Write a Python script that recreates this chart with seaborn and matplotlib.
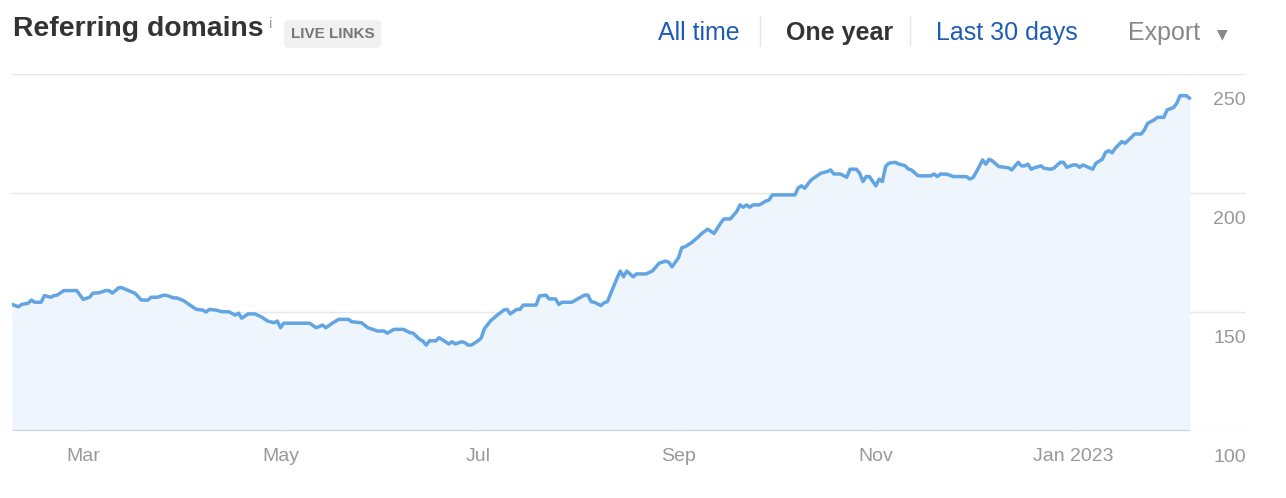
import pandas as pd
import matplotlib.pyplot as plt
from matplotlib.lines import Line2D
from matplotlib.transforms import offset_copy
import seaborn as sns

# data (days since start, referring domains)
start = "2022-02-07"
days = [0, 2, 3, 5, 6, 7, 9, 10, 12, 13, 14, 16, 20, 22, 24, 25, 27, 29, 30, 31,
        33, 34, 36, 38, 40, 42, 43, 45, 47, 48, 50, 51, 53, 55, 57, 59, 60, 61, 63, 65,
        67, 69, 70, 71, 73, 75, 77, 79, 81, 82, 83, 84, 92, 94, 96, 97, 99, 101, 104, 105,
        108, 110, 113, 115, 116, 118, 121, 123, 124, 126, 127, 128, 129, 131, 132, 134, 135, 136, 137, 139,
        140, 141, 142, 144, 145, 146, 148, 150, 152, 153, 154, 156, 157, 158, 162, 163, 165, 166, 168, 169,
        170, 173, 176, 177, 178, 179, 180, 182, 183, 184, 187, 188, 189, 190, 192, 193, 196, 198, 200, 202,
        203, 204, 206, 207, 208, 210, 212, 213, 215, 217, 219, 220, 222, 224, 225, 226, 227, 228, 229, 231,
        233, 234, 235, 242, 243, 244, 245, 247, 250, 252, 253, 254, 256, 258, 259, 261, 262, 263, 264, 265,
        267, 268, 269, 270, 271, 273, 274, 276, 277, 278, 280, 281, 284, 285, 286, 287, 289, 291, 295, 296,
        297, 298, 300, 301, 302, 303, 305, 308, 309, 311, 312, 313, 314, 315, 316, 318, 319, 321, 322, 324,
        325, 326, 328, 329, 330, 331, 333, 334, 335, 337, 338, 339, 340, 341, 343, 344, 346, 347, 349, 350,
        351, 353, 354, 356, 357, 359, 360, 361, 363, 364]
domains = [153.2, 152.2, 153.2, 153.7, 155.0, 154.1, 154.1, 156.9, 156.2, 156.9, 157.1, 159.0, 159.0, 155.3, 156.2, 157.9, 158.1, 159.0, 159.0, 157.9,
           160.2, 160.2, 159.0, 157.9, 155.0, 155.0, 156.2, 156.2, 157.1, 156.9, 155.9, 155.9, 154.8, 152.9, 151.1, 150.8, 150.0, 151.1, 150.8, 150.1,
           150.1, 148.7, 149.5, 147.4, 149.2, 149.2, 148.0, 146.2, 145.5, 146.2, 143.4, 145.3, 145.3, 143.4, 144.5, 143.4, 145.3, 146.9, 146.9, 145.9,
           145.5, 143.4, 142.0, 142.0, 141.1, 142.7, 142.7, 141.3, 141.1, 138.5, 137.8, 136.1, 137.9, 137.9, 139.2, 137.5, 136.6, 137.5, 136.6, 137.5,
           137.1, 136.1, 136.1, 137.9, 139.0, 143.0, 146.4, 148.7, 150.8, 151.1, 149.2, 151.1, 151.1, 152.9, 152.9, 156.7, 157.1, 155.5, 155.5, 153.2,
           154.1, 154.1, 156.4, 157.1, 157.1, 154.3, 154.1, 152.7, 153.9, 154.3, 164.2, 167.2, 164.8, 167.2, 164.8, 166.0, 166.0, 167.3, 170.5, 171.4,
           170.9, 169.0, 172.8, 177.0, 177.4, 179.1, 181.4, 182.8, 184.8, 183.0, 187.3, 189.1, 189.1, 192.2, 195.0, 194.0, 195.0, 194.0, 195.0, 195.0,
           196.6, 197.1, 199.2, 199.2, 202.2, 203.0, 202.0, 205.5, 208.3, 209.0, 209.7, 208.0, 208.0, 206.6, 210.0, 210.0, 208.3, 204.8, 206.9, 206.9,
           203.0, 205.8, 204.8, 211.1, 212.5, 212.9, 212.2, 211.5, 210.1, 209.7, 207.3, 207.2, 207.2, 208.0, 206.9, 208.0, 207.9, 206.9, 206.9, 205.9,
           206.4, 208.7, 213.9, 212.1, 214.2, 213.5, 211.1, 210.6, 209.7, 212.9, 211.4, 211.4, 212.1, 210.0, 210.6, 211.4, 210.4, 210.0, 210.4, 212.9,
           212.9, 210.8, 211.8, 211.8, 210.8, 211.8, 210.6, 210.0, 212.5, 214.2, 217.1, 217.8, 216.9, 218.8, 221.6, 220.9, 223.4, 224.8, 224.8, 226.5,
           229.3, 230.7, 231.8, 231.8, 234.9, 235.9, 237.7, 240.9, 240.9, 239.8]

y_ticks = [100, 150, 200, 250]
month_ticks = ["2022-03-01", "2022-05-01", "2022-07-01", "2022-09-01", "2022-11-01", "2023-01-01"]
month_labels = ["Mar", "May", "Jul", "Sep", "Nov", "Jan 2023"]

df = pd.DataFrame({
    "date": pd.Timestamp(start) + pd.to_timedelta(days, unit="D"),
    "domains": domains,
})

sns.set_style("white")
plt.rcParams["font.family"] = ["Liberation Sans", "DejaVu Sans"]

W, H = 1286, 498
fig = plt.figure(figsize=(W / 100, H / 100), dpi=100)
ax = fig.add_axes([12 / W, 1 - 431 / H, (1246 - 12) / W, (431 - 74) / H])

# area + line
ax.fill_between(df["date"], 100, df["domains"], color="#eef5fd", lw=0, zorder=1)
sns.lineplot(data=df, x="date", y="domains", ax=ax, color="#62a5e2", lw=2.5,
             solid_joinstyle="round", solid_capstyle="round", zorder=3)
ax.hlines(100, df["date"].iloc[0], df["date"].iloc[-1], color="#d3d7dc", lw=1.6, zorder=2)

ax.set_xlim(pd.Timestamp(start), pd.Timestamp(start) + pd.Timedelta(days=381.4))
ax.set_ylim(100, 250)
ax.set(xlabel=None, ylabel=None)
for s in ax.spines.values():
    s.set_visible(False)

# horizontal grid
ax.set_yticks(y_ticks)
ax.yaxis.grid(True, color="#e8e8e8", lw=1)
ax.set_axisbelow(True)
ax.tick_params(axis="y", left=False, right=False, labelleft=False)

# y labels sit under their gridline, right aligned
lab_tr = offset_copy(ax.get_yaxis_transform(), fig=fig, x=0, y=-31, units="dots")
for v in y_ticks:
    ax.text(1.0, v, str(v), transform=lab_tr, ha="right", va="baseline",
            fontsize=14, color="#999999")

# month ticks
ax.set_xticks(pd.to_datetime(month_ticks))
ax.set_xticklabels(month_labels)
ax.tick_params(axis="x", bottom=True, direction="in", length=8, width=1, color="#e2e2e2",
               labelsize=14, labelcolor="#999999", pad=12)

# header
fig.text(13 / W, 1 - 36 / H, "Referring domains", fontsize=20.4, fontweight="bold",
         color="#333333", va="baseline")
fig.text(269 / W, 1 - 28 / H, "i", fontsize=10.5, color="#999999", va="baseline")
fig.text(291 / W, 1 - 38 / H, "LIVE LINKS", fontsize=11, fontweight="bold", color="#777777",
         va="baseline",
         bbox=dict(boxstyle="round,pad=0.45,rounding_size=0.3", fc="#f1f1f1", ec="none"))

fig.text(658 / W, 1 - 40 / H, "All time", fontsize=18, color="#1d5cb4", va="baseline")
fig.text(786 / W, 1 - 40 / H, "One year", fontsize=18, fontweight="bold", color="#333333", va="baseline")
fig.text(936 / W, 1 - 40 / H, "Last 30 days", fontsize=18, color="#1d5cb4", va="baseline")
fig.text(1128 / W, 1 - 40 / H, "Export", fontsize=18, color="#888888", va="baseline")
fig.text(1217 / W, 1 - 38 / H, "\u25bc", fontsize=10, color="#888888", va="baseline",
         family=["DejaVu Sans"])
for sx in (760, 910):
    fig.add_artist(Line2D([sx / W, sx / W], [1 - 16 / H, 1 - 46 / H], color="#e6e6e6", lw=1))

fig.savefig("out.png", dpi=100, facecolor="white")
